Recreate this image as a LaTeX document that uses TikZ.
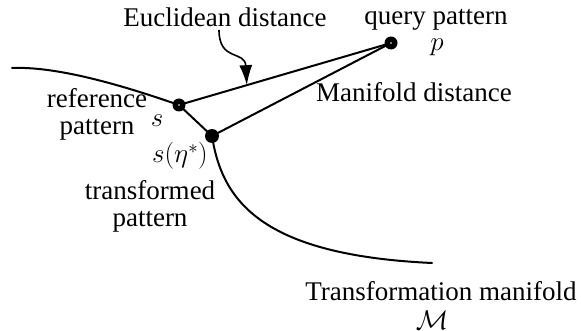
\RequirePackage{fix-cm}
\documentclass[tikz,border=0pt]{standalone}
\usepackage{fontspec}
\setmainfont{Liberation Serif}
\usetikzlibrary{arrows.meta,calc}
\begin{document}
\begin{tikzpicture}[x=1pt,y=-1pt,
  lbl/.style={inner sep=0pt, anchor=base, font=\fontsize{27}{30}\selectfont},
  dot/.style={circle, fill=black, inner sep=0pt, minimum size=13pt},
  ln/.style={line width=2pt, line cap=round, line join=round},
  curveline/.style={line width=2pt, line cap=round}]
\useasboundingbox (0,0) rectangle (581,331);
% points
\node[dot] (p) at (391,43) {};
\node[dot] (s) at (179,105) {};
\node[dot, minimum size=14pt] (se) at (212,136) {};
% manifold curve
\draw[curveline] (12,68) .. controls (60,66) and (130,88) .. (s.center)
  -- (se.center) .. controls (222,200) and (260,255) .. (432,263);
% distances
\draw[ln] (s.center) -- (p.center);
\draw[ln] (se.center) -- (p.center);
% arrow to euclidean line
\coordinate (a0) at (219,30);
\coordinate (a1) at ($(s.center)!0.32!(p.center)$);
\draw[line width=1.6pt, -{Latex[length=20pt,width=13pt]}] (a0) .. controls (219,62) and (245,50) .. (a1);
% white centres
\fill[white] (p.center) circle (0.9pt);
\fill[white] (s.center) circle (0.9pt);
% labels
\node[lbl] (eu) at (225,27) {Euclidean distance};
\node[lbl] (qp) at (436,25) {query pattern};
\node[lbl] (pl) at (437,51) {$p$};
\node[lbl] (md) at (414,102) {Manifold distance};
\node[lbl] (ref1) at (97,108) {reference};
\node[lbl] (ref2) at (97,135) {pattern};
\node[lbl] (sl) at (157,127) {$s$};
\node[lbl] (sel) at (180,163) {$s(\eta^*)$};
\node[lbl] (tr1) at (150,200) {transformed};
\node[lbl] (tr2) at (150,227) {pattern};
\node[lbl] (tm) at (441,300) {Transformation manifold};
\node[lbl] (ml) at (432,329) {$\mathcal{M}$};
\end{tikzpicture}
\end{document}
